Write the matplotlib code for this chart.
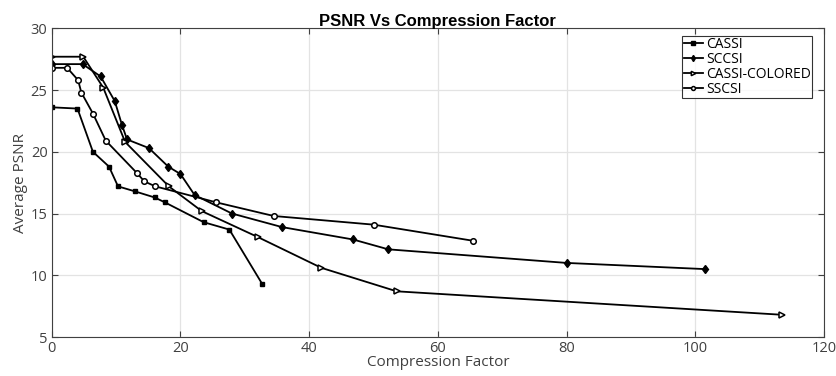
import matplotlib
matplotlib.use('Agg')
import matplotlib.pyplot as plt

# data
cassi_x = [0.1, 4.0, 6.4, 8.9, 10.3, 12.9, 16.0, 17.6, 23.6, 27.6, 32.7]
cassi_y = [23.6, 23.5, 20.0, 18.8, 17.2, 16.8, 16.3, 15.9, 14.3, 13.7, 9.3]

sccsi_x = [0.1, 4.8, 7.6, 9.8, 10.9, 11.7, 15.1, 18.1, 20.0, 22.2, 28.0, 35.8, 46.8, 52.3, 80.0, 101.5]
sccsi_y = [27.1, 27.1, 26.1, 24.1, 22.2, 21.0, 20.3, 18.8, 18.2, 16.5, 15.0, 13.9, 12.9, 12.1, 11.0, 10.5]

colored_x = [0.1, 4.9, 8.0, 11.4, 18.2, 23.3, 32.0, 41.9, 53.6, 113.5]
colored_y = [27.7, 27.7, 25.2, 20.8, 17.2, 15.2, 13.1, 10.6, 8.7, 6.8]

sscsi_x = [0.05, 2.4, 4.1, 4.6, 6.4, 8.4, 13.2, 14.4, 16.1, 25.6, 34.5, 50.0, 65.4]
sscsi_y = [26.8, 26.8, 25.8, 24.8, 23.1, 20.9, 18.3, 17.6, 17.2, 15.9, 14.8, 14.1, 12.8]

plt.rcParams['font.family'] = ['Open Sans', 'DejaVu Sans']

fig = plt.figure(figsize=(8.37, 3.76), dpi=100)
ax = fig.add_axes([0.0618, 0.1037, 0.9227, 0.821])

ax.plot(cassi_x, cassi_y, '-s', color='k', lw=1.3, ms=3.5, mfc='k', label='CASSI')
ax.plot(sccsi_x, sccsi_y, '-d', color='k', lw=1.3, ms=4.5, mfc='k', label='SCCSI')
ax.plot(colored_x, colored_y, '->', color='k', lw=1.3, ms=4.5, mfc='white', mew=1.1, label='CASSI-COLORED')
ax.plot(sscsi_x, sscsi_y, '-o', color='k', lw=1.3, ms=4, mfc='white', mew=1.1, label='SSCSI')

ax.set_xlim(0, 120)
ax.set_ylim(5, 30)
ax.set_xticks([0, 20, 40, 60, 80, 100, 120])
ax.set_yticks([5, 10, 15, 20, 25, 30])
ax.grid(True, color='#e3e3e3', lw=0.9)
ax.set_axisbelow(True)
ax.tick_params(direction='in', top=True, right=True, length=4, colors='#404040',
               labelcolor='#404040', labelsize=10.5, pad=3)
for s in ax.spines.values():
    s.set_color('#404040')
    s.set_linewidth(0.8)

ax.set_title('PSNR Vs Compression Factor', fontsize=12, fontweight='bold',
             family='Liberation Sans', pad=2)
ax.set_xlabel('Compression Factor', fontsize=11, color='#404040', labelpad=-1)
ax.set_ylabel('Average PSNR', fontsize=11, color='#404040', labelpad=2)

leg = ax.legend(loc='upper right', bbox_to_anchor=(0.99, 0.99), fontsize=10, frameon=True,
                fancybox=False, handlelength=1.4, handletextpad=0.2, labelspacing=0.0,
                borderpad=0.1, borderaxespad=0.3, markerscale=0.7)
leg.get_frame().set_edgecolor('k')
leg.get_frame().set_linewidth(0.8)

fig.savefig('out.png', dpi=100)
